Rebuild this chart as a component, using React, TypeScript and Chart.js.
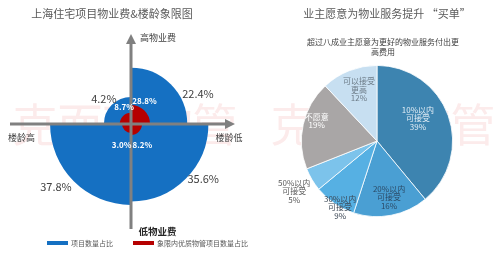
import React, { useEffect, useRef } from 'react';
import { Chart, registerables } from 'chart.js';

Chart.register(...registerables);

// ---------- Data ----------
// Quadrant order (clockwise from top): 高物业费·楼龄低, 低物业费·楼龄低, 低物业费·楼龄高, 高物业费·楼龄高
const quadrantNames = ['高物业费/楼龄低', '低物业费/楼龄低', '低物业费/楼龄高', '高物业费/楼龄高'];
const projectShare = [22.4, 35.6, 37.8, 4.2]; // 项目数量占比
const qualityShare = [28.8, 8.2, 3.0, 8.7]; // 象限内优质物管项目数量占比

const payCategories = ['10%以内可接受', '20%以内可接受', '30%以内可接受', '50%以内可接受', '不愿意', '可以接受更高'];
const payLabelLines = [['10%以内', '可接受'], ['20%以内', '可接受'], ['30%以内', '可接受'], ['50%以内', '可接受'], ['不愿意'], ['可以接受', '更高']];
const payValues = [39, 16, 9, 5, 19, 12];

const leftTitle = '上海住宅项目物业费&楼龄象限图';
const rightTitle = '业主愿意为物业服务提升 “买单”';
const rightSubtitle = ['超过八成业主愿意为更好的物业服务付出更', '高费用'];
const legendNames = ['项目数量占比', '象限内优质物管项目数量占比'];

// ---------- Styles ----------
const FONT = '"Noto Sans CJK SC", "Noto Sans", sans-serif';
const BLUE = '#1570c2';
const RED = '#b50000';
const AXIS = '#808080';
const pieColors = ['#3d84b0', '#4a9fd3', '#56b0e3', '#7cc3eb', '#a9a6a6', '#c7dff1'];
const pieTextColors = ['#e3eef6', '#2b4a66', '#3a4654', '#595959', '#ffffff', '#6d7c88'];
// label placement: [angle deg (canvas), gap px beyond arc]
const blueLabelPlace = [[-24, 17], [37, 13], [140, 17], [-137, 10]];
const redLabelPlace = [[-60, 8], [62, 13], [114, 14], [-112, 7]];
// pie label placement: [angle offset deg, radius factor]
const pieLabelPlace = [[-9.5, 0.62], [-1.3, 0.76], [-5, 1.0], [-0.5, 1.28], [5.8, 0.84], [2.2, 0.72]];

const rad = (d: number) => (d * Math.PI) / 180;

function drawWatermark(ctx: CanvasRenderingContext2D, cx: number, cy: number) {
  ctx.save();
  ctx.font = `45px ${FONT}`;
  ctx.fillStyle = '#fcebeb';
  ctx.textAlign = 'center';
  ctx.textBaseline = 'middle';
  ctx.fillText('克而瑞物管', cx, cy);
  ctx.restore();
}

const blueExtras = {
  id: 'blueExtras',
  beforeDraw(chart: any) {
    drawWatermark(chart.ctx, 125, 125);
  },
  afterDatasetsDraw(chart: any) {
    const ctx = chart.ctx as CanvasRenderingContext2D;
    const meta = chart.getDatasetMeta(0);
    ctx.save();
    ctx.font = `11px ${FONT}`;
    ctx.fillStyle = '#404040';
    ctx.textAlign = 'center';
    ctx.textBaseline = 'middle';
    meta.data.forEach((arc: any, i: number) => {
      const [a, gap] = blueLabelPlace[i];
      const r = arc.outerRadius + gap;
      ctx.fillText(projectShare[i].toFixed(1) + '%', arc.x + Math.cos(rad(a)) * r, arc.y + Math.sin(rad(a)) * r);
    });
    ctx.restore();
  },
};

const redExtras = {
  id: 'redExtras',
  beforeDraw(chart: any) {
    const ctx = chart.ctx as CanvasRenderingContext2D;
    ctx.save();
    ctx.font = `11px ${FONT}`;
    ctx.fillStyle = '#595959';
    ctx.textAlign = 'center';
    ctx.textBaseline = 'middle';
    ctx.fillText(leftTitle, 112, 14);
    ctx.restore();
  },
  afterDraw(chart: any) {
    const ctx = chart.ctx as CanvasRenderingContext2D;
    const meta = chart.getDatasetMeta(0);
    const cx = meta.data[0].x;
    const cy = meta.data[0].y;
    ctx.save();
    // axes
    ctx.strokeStyle = AXIS;
    ctx.fillStyle = AXIS;
    ctx.lineWidth = 3;
    ctx.beginPath();
    ctx.moveTo(10, cy);
    ctx.lineTo(226, cy);
    ctx.moveTo(cx, 229);
    ctx.lineTo(cx, 43);
    ctx.stroke();
    ctx.beginPath();
    ctx.moveTo(235, cy);
    ctx.lineTo(225, cy - 5);
    ctx.lineTo(225, cy + 5);
    ctx.closePath();
    ctx.fill();
    ctx.beginPath();
    ctx.moveTo(cx, 34);
    ctx.lineTo(cx - 5, 44);
    ctx.lineTo(cx + 5, 44);
    ctx.closePath();
    ctx.fill();

    // red labels
    ctx.font = `bold 8px ${FONT}`;
    ctx.fillStyle = '#ffffff';
    ctx.textAlign = 'center';
    ctx.textBaseline = 'middle';
    meta.data.forEach((arc: any, i: number) => {
      const [a, gap] = redLabelPlace[i];
      const r = arc.outerRadius + gap;
      ctx.fillText(qualityShare[i].toFixed(1) + '%', arc.x + Math.cos(rad(a)) * r, arc.y + Math.sin(rad(a)) * r);
    });

    // axis labels
    ctx.font = `9px ${FONT}`;
    ctx.fillStyle = '#404040';
    ctx.fillText('高物业费', 158, 38);
    ctx.fillText('楼龄高', 21.5, 138);
    ctx.fillText('楼龄低', 229, 138);
    ctx.font = `bold 9.5px ${FONT}`;
    ctx.fillStyle = '#262626';
    ctx.fillText('低物业费', 157.5, 231);

    // legend
    ctx.fillStyle = BLUE;
    ctx.fillRect(47, 241, 21, 4);
    ctx.fillStyle = RED;
    ctx.fillRect(133, 241, 21, 4);
    ctx.font = `7px ${FONT}`;
    ctx.fillStyle = '#595959';
    ctx.textAlign = 'left';
    ctx.fillText(legendNames[0], 71, 243);
    ctx.fillText(legendNames[1], 157, 243);
    ctx.restore();
  },
};

const pieExtras = {
  id: 'pieExtras',
  beforeDraw(chart: any) {
    const ctx = chart.ctx as CanvasRenderingContext2D;
    drawWatermark(ctx, 133, 125);
    ctx.save();
    ctx.textAlign = 'center';
    ctx.textBaseline = 'middle';
    ctx.font = `11px ${FONT}`;
    ctx.fillStyle = '#595959';
    ctx.fillText(rightTitle, 137, 14);
    ctx.font = `8px ${FONT}`;
    ctx.fillStyle = '#404040';
    ctx.fillText(rightSubtitle[0], 133, 42);
    ctx.fillText(rightSubtitle[1], 133, 52);
    ctx.restore();
  },
  afterDatasetsDraw(chart: any) {
    const ctx = chart.ctx as CanvasRenderingContext2D;
    const meta = chart.getDatasetMeta(0);
    ctx.save();
    ctx.font = `8px ${FONT}`;
    ctx.textAlign = 'center';
    ctx.textBaseline = 'middle';
    meta.data.forEach((arc: any, i: number) => {
      const [da, f] = pieLabelPlace[i];
      const mid = (arc.startAngle + arc.endAngle) / 2 + rad(da);
      const r = arc.outerRadius * f;
      const x = arc.x + Math.cos(mid) * r;
      const y = arc.y + Math.sin(mid) * r;
      const lines = [...payLabelLines[i], payValues[i] + '%'];
      const lh = 8.5;
      ctx.fillStyle = pieTextColors[i];
      lines.forEach((t, k) => {
        ctx.fillText(t, x, y + (k - (lines.length - 1) / 2) * lh);
      });
    });
    ctx.restore();
  },
};

export default function App() {
  const blueRef = useRef<HTMLCanvasElement>(null);
  const redRef = useRef<HTMLCanvasElement>(null);
  const pieRef = useRef<HTMLCanvasElement>(null);

  useEffect(() => {
    Chart.defaults.font.family = FONT;
    const polarPadding = { left: 31, right: 19, top: 24, bottom: 33 };
    const common: any = {
      responsive: false,
      animation: false,
      devicePixelRatio: 1,
      plugins: { legend: { display: false }, tooltip: { enabled: false } },
    };
    const blue = new Chart(blueRef.current!, {
      type: 'polarArea',
      data: {
        labels: quadrantNames,
        datasets: [{ label: legendNames[0], data: projectShare, backgroundColor: BLUE, borderWidth: 0 }],
      },
      options: {
        ...common,
        layout: { padding: polarPadding },
        scales: { r: { display: false, min: -12.7, max: 49.7, beginAtZero: false } },
      },
      plugins: [blueExtras],
    } as any);
    const red = new Chart(redRef.current!, {
      type: 'polarArea',
      data: {
        labels: quadrantNames,
        datasets: [{ label: legendNames[1], data: qualityShare, backgroundColor: RED, borderWidth: 0 }],
      },
      options: {
        ...common,
        layout: { padding: polarPadding },
        scales: { r: { display: false, min: -20.2, max: 237.5, beginAtZero: false } },
      },
      plugins: [redExtras],
    } as any);
    const pie = new Chart(pieRef.current!, {
      type: 'pie',
      data: {
        labels: payCategories,
        datasets: [{ data: payValues, backgroundColor: pieColors, borderColor: '#ffffff', borderWidth: 0.8 }],
      },
      options: {
        ...common,
        layout: { padding: { left: 51, right: 46, top: 65, bottom: 40 } },
      },
      plugins: [pieExtras],
    } as any);
    return () => {
      blue.destroy();
      red.destroy();
      pie.destroy();
    };
  }, []);

  const cs = (left: number, w: number): React.CSSProperties => ({ position: 'absolute', left, top: 0, width: w, height: 257 });
  return (
    <div style={{ position: 'absolute', left: 0, top: 0, width: 499, height: 257, background: '#ffffff', overflow: 'hidden' }}>
      <canvas ref={blueRef} width={250} height={257} style={cs(0, 250)} />
      <canvas ref={redRef} width={250} height={257} style={cs(0, 250)} />
      <canvas ref={pieRef} width={249} height={257} style={cs(250, 249)} />
    </div>
  );
}
